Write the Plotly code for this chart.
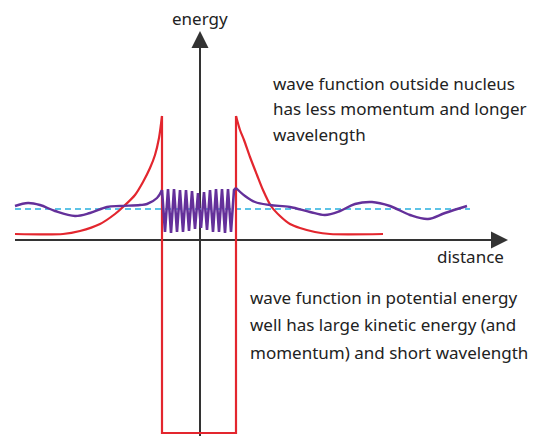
import plotly.graph_objects as go

# coordinates: distance (x) measured from the energy axis, energy (y) measured from the distance axis
# potential energy curve (red)
pot_left_x = [-185, -137, -120, -100, -85, -77, -65, -57, -50, -45, -41, -38]
pot_left_y = [6, 6, 9, 16, 26, 33, 45, 58, 72, 85, 102, 124]
well_x = [-38, -38, 36, 36]
well_y = [124, -193, -193, 124]
pot_right_x = [36, 40, 44, 50, 57, 63, 71, 80, 90, 100, 115, 130, 183]
pot_right_y = [124, 110, 100, 83, 65, 50, 34, 24, 16, 12, 8, 6, 6]

# wave function (purple)
wave_left_x = [-185, -172, -160, -145, -125, -110, -93, -80, -60, -53, -43, -38]
wave_left_y = [34, 37, 35, 29, 24, 27, 33, 34, 35, 36, 42, 50]
wave_in_x = [-38, -35, -32, -29, -26, -23, -20, -17, -14, -11, -8, -5, -2, 1, 4, 7,
             10, 13, 16, 19, 22, 25, 28, 31, 34, 36]
wave_in_y = [50, 8, 51, 7, 51, 8, 50, 8, 50, 9, 49, 11, 47, 12, 48, 10,
             50, 8, 51, 8, 51, 7, 51, 8, 50, 52]
wave_right_x = [36, 45, 55, 70, 90, 110, 125, 140, 155, 172, 190, 210, 228, 245, 267]
wave_right_y = [52, 44, 38, 35, 33, 28, 25, 29, 36, 38, 34, 25, 21, 27, 34]

# total energy level (dashed)
energy_x = [-185, 270]
energy_y = [31, 31]

# axes extents
xaxis_ext = [-185, 308]
yaxis_ext = [-196, 209]

RED = "#e3262e"
PURPLE = "#64309a"
CYAN = "#5cc3e6"
AXIS = "#333333"
TXT = "#222222"
FONT = "Noto Sans"
FS = 17

fig = go.Figure()

# axes lines
fig.add_trace(go.Scatter(x=[xaxis_ext[0], xaxis_ext[1] - 6], y=[0, 0], mode="lines",
                         line=dict(color=AXIS, width=2), hoverinfo="skip"))
fig.add_trace(go.Scatter(x=[0, 0], y=[yaxis_ext[0], yaxis_ext[1] - 6], mode="lines",
                         line=dict(color=AXIS, width=2), hoverinfo="skip"))

fig.add_trace(go.Scatter(x=energy_x, y=energy_y, mode="lines",
                         line=dict(color=CYAN, width=2, dash="6px,4px"), hoverinfo="skip"))

# potential energy
fig.add_trace(go.Scatter(x=pot_left_x, y=pot_left_y, mode="lines",
                         line=dict(color=RED, width=2.2, shape="spline", smoothing=0.8),
                         hoverinfo="skip"))
fig.add_trace(go.Scatter(x=well_x, y=well_y, mode="lines",
                         line=dict(color=RED, width=2.2), hoverinfo="skip"))
fig.add_trace(go.Scatter(x=pot_right_x, y=pot_right_y, mode="lines",
                         line=dict(color=RED, width=2.2, shape="spline", smoothing=0.8),
                         hoverinfo="skip"))

# wave function
fig.add_trace(go.Scatter(x=wave_left_x, y=wave_left_y, mode="lines",
                         line=dict(color=PURPLE, width=2.4, shape="spline"), hoverinfo="skip"))
fig.add_trace(go.Scatter(x=wave_in_x, y=wave_in_y, mode="lines",
                         line=dict(color=PURPLE, width=2.6), hoverinfo="skip"))
fig.add_trace(go.Scatter(x=wave_right_x, y=wave_right_y, mode="lines",
                         line=dict(color=PURPLE, width=2.4, shape="spline"), hoverinfo="skip"))

annos = []
# arrowheads
annos.append(dict(x=xaxis_ext[1], y=0, ax=xaxis_ext[1] - 14, ay=0, xref="x", yref="y",
                  axref="x", ayref="y", showarrow=True, arrowhead=2, arrowsize=1.7,
                  arrowwidth=2, arrowcolor=AXIS, text=""))
annos.append(dict(x=0, y=yaxis_ext[1], ax=0, ay=yaxis_ext[1] - 14, xref="x", yref="y",
                  axref="x", ayref="y", showarrow=True, arrowhead=2, arrowsize=1.7,
                  arrowwidth=2, arrowcolor=AXIS, text=""))

annos.append(dict(x=0, y=222, text="energy", showarrow=False, xanchor="center", yanchor="middle",
                  font=dict(family=FONT, size=FS, color=TXT)))
annos.append(dict(x=270, y=-16, text="distance", showarrow=False, xanchor="center", yanchor="middle",
                  font=dict(family=FONT, size=FS, color=TXT)))

upper = ["wave function outside nucleus", "has less momentum and longer", "wavelength"]
upper_y = [157, 132, 106]
for t, yy in zip(upper, upper_y):
    annos.append(dict(x=71, y=yy, text=t, showarrow=False, xanchor="left", yanchor="middle",
                      font=dict(family=FONT, size=FS, color=TXT)))
lower = ["wave function in potential energy", "well has large kinetic energy (and",
         "momentum) and short wavelength"]
lower_y = [-57, -84, -112]
for t, yy in zip(lower, lower_y):
    annos.append(dict(x=48, y=yy, text=t, showarrow=False, xanchor="left", yanchor="middle",
                      font=dict(family=FONT, size=FS, color=TXT)))

# page has an 8px body margin, so the figure is 536x428 and ranges are offset accordingly
fig.update_layout(
    width=536, height=428, margin=dict(l=0, r=0, t=0, b=0),
    paper_bgcolor="white", plot_bgcolor="white", showlegend=False,
    xaxis=dict(range=[-192, 344], visible=False, fixedrange=True),
    yaxis=dict(range=[-196, 232], visible=False, fixedrange=True),
    annotations=annos,
)

fig.write_html("out.html")
